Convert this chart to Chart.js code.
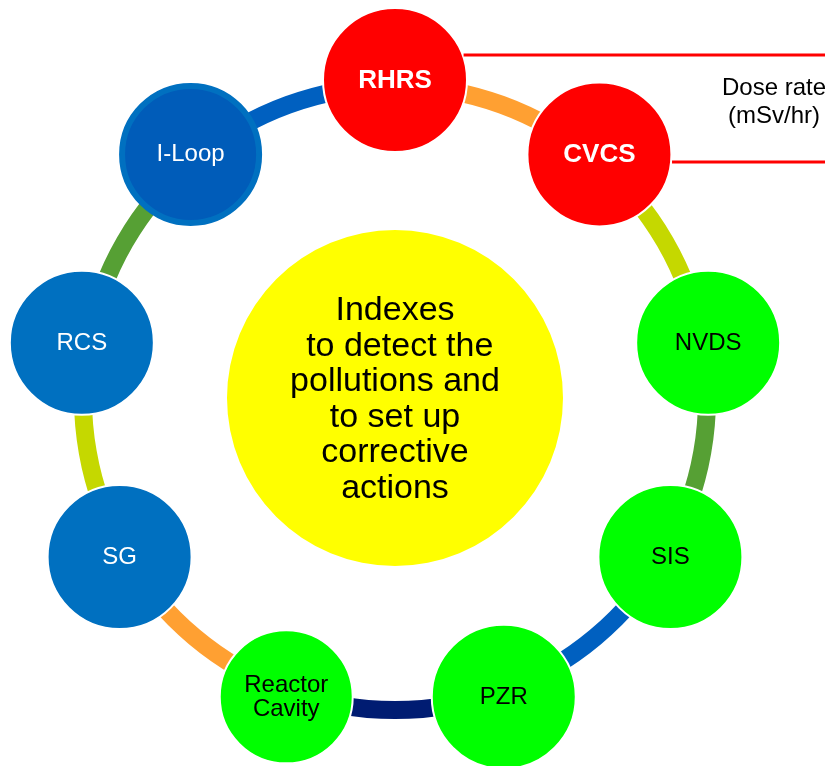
<!DOCTYPE html>
<html><head><meta charset="utf-8">
<script src="https://cdn.jsdelivr.net/npm/chart.js@4.4.1/dist/chart.umd.min.js"></script>
<style>
html,body{margin:0;padding:0;background:#fff;}
#wrap{position:relative;width:825px;height:766px;overflow:hidden;background:#fff;}
canvas{position:absolute;left:0;top:0;}
</style></head><body>
<div id="wrap">
<canvas id="ring" width="825" height="766"></canvas>
<canvas id="nodes" width="825" height="766"></canvas>
</div>
<script>
// ---- data ----
const nodeNames = ['RHRS', 'CVCS', 'NVDS', 'SIS', 'PZR', ['Reactor', 'Cavity'], 'SG', 'RCS', 'I-Loop'];
const nodeValues = [1, 1, 1, 1, 1, 1, 1, 1, 1];
const nodeColors = ['#FF0000', '#FF0000', '#00FF00', '#00FF00', '#00FF00', '#00FF00', '#0070C0', '#0070C0', '#005CB9'];
const nodeTextColors = ['#FFFFFF', '#FFFFFF', '#000000', '#000000', '#000000', '#000000', '#FFFFFF', '#FFFFFF', '#FFFFFF'];
const nodeBold = [true, true, false, false, false, false, false, false, false];
const linkNames = ['RHRS-CVCS', 'CVCS-NVDS', 'NVDS-SIS', 'SIS-PZR', 'PZR-Reactor Cavity', 'Reactor Cavity-SG', 'SG-RCS', 'RCS-I-Loop', 'I-Loop-RHRS'];
const linkValues = [1, 1, 1, 1, 1, 1, 1, 1, 1];
const linkColors = ['#FFA032', '#C5D800', '#56A034', '#0060C0', '#001C72', '#FFA032', '#C5D800', '#56A034', '#0060C0'];
const centerLines = ['Indexes', ' to detect the', 'pollutions and', 'to set up', 'corrective', 'actions'];
const doseLines = ['Dose rate', '(mSv/hr)'];

const FONT = '"Liberation Sans", Arial, Helvetica, sans-serif';

// ---- ring + centre disk (doughnut) ----
new Chart(document.getElementById('ring'), {
  type: 'doughnut',
  data: {
    labels: linkNames,
    datasets: [
      { data: linkValues, backgroundColor: linkColors, borderWidth: 0, weight: 18 },
      { data: [1], backgroundColor: 'rgba(0,0,0,0)', borderWidth: 0, weight: 135 },
      { data: [1], backgroundColor: '#FFFF00', borderWidth: 0, weight: 168 }
    ]
  },
  options: {
    responsive: false, animation: false, events: [], cutout: 0,
    layout: { padding: { left: 0, right: 35, top: 77, bottom: 47 } },
    plugins: { legend: { display: false }, tooltip: { enabled: false } }
  }
});

// ---- labels plugin ----
const labelPlugin = {
  id: 'nodeLabels',
  afterDatasetsDraw(chart) {
    const ctx = chart.ctx;
    const meta = chart.getDatasetMeta(0);
    const sc = chart.scales.r;
    ctx.save();
    // red connector lines to the dose-rate table
    const p0 = meta.data[0], p1 = meta.data[1];
    const r0 = 73;
    ctx.strokeStyle = '#FF0000';
    ctx.lineWidth = 3;
    ctx.beginPath();
    let dy = -25;
    ctx.moveTo(p0.x + Math.sqrt(r0 * r0 - dy * dy), p0.y + dy);
    ctx.lineTo(chart.width, p0.y + dy);
    dy = 7.5;
    ctx.moveTo(p1.x + Math.sqrt(r0 * r0 - dy * dy), p1.y + dy);
    ctx.lineTo(chart.width, p1.y + dy);
    ctx.stroke();

    ctx.textAlign = 'center';
    ctx.textBaseline = 'alphabetic';
    // dose rate text
    ctx.fillStyle = '#000000';
    ctx.font = '24px ' + FONT;
    ctx.fillText(doseLines[0], chart.width - 51, 95);
    ctx.fillText(doseLines[1], chart.width - 51, 123);

    // node labels
    meta.data.forEach((pt, i) => {
      const lines = [].concat(chart.data.labels[i]);
      const size = nodeBold[i] ? 26 : 24;
      ctx.font = (nodeBold[i] ? 'bold ' : '') + size + 'px ' + FONT;
      ctx.fillStyle = nodeTextColors[i];
      const cap = 0.716 * size;
      const lh = 24.5;
      const n = lines.length;
      lines.forEach((ln, k) => {
        const cy = pt.y - 1.5 + (k - (n - 1) / 2) * lh;
        ctx.fillText(ln, pt.x, cy + cap / 2);
      });
    });

    // centre text
    ctx.fillStyle = '#000000';
    ctx.font = '34px ' + FONT;
    const cap2 = 0.716 * 34;
    const lh2 = 35.6;
    centerLines.forEach((ln, k) => {
      const cy = sc.yCenter - 1.2 + (k - (centerLines.length - 1) / 2) * lh2;
      ctx.fillText(ln, sc.xCenter, cy + cap2 / 2);
    });
    ctx.restore();
  }
};

// ---- nodes (radar points) ----
new Chart(document.getElementById('nodes'), {
  type: 'radar',
  data: {
    labels: nodeNames,
    datasets: [{
      data: nodeValues,
      showLine: false,
      fill: false,
      borderWidth: 0,
      clip: false,
      pointStyle: 'circle',
      pointRadius: [72, 72, 72, 72, 72, 66.5, 72, 72, 68.5],
      pointBackgroundColor: nodeColors,
      pointBorderColor: ['#FFFFFF', '#FFFFFF', '#FFFFFF', '#FFFFFF', '#FFFFFF', '#FFFFFF', '#FFFFFF', '#FFFFFF', '#0070C0'],
      pointBorderWidth: [2, 2, 2, 2, 2, 2, 2, 2, 6]
    }]
  },
  options: {
    responsive: false, animation: false, events: [],
    layout: { padding: { left: 0, right: 35, top: 80, bottom: 50 } },
    scales: {
      r: {
        display: false, min: 0, max: 1,
        ticks: { display: false },
        pointLabels: { display: false },
        grid: { display: false },
        angleLines: { display: false }
      }
    },
    plugins: { legend: { display: false }, tooltip: { enabled: false } }
  },
  plugins: [labelPlugin]
});
</script>
</body></html>
